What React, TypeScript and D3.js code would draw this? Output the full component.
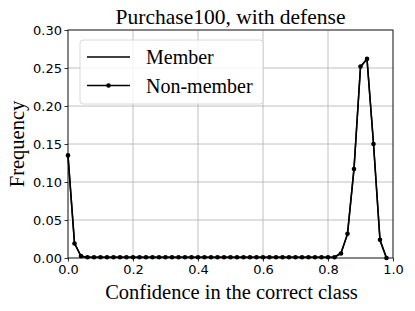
import React, { useEffect, useRef } from 'react';
import * as d3 from 'd3';

// bin positions (confidence), 50 bins of width 0.02
const binX = [
  0.00, 0.02, 0.04, 0.06, 0.08, 0.10, 0.12, 0.14, 0.16, 0.18,
  0.20, 0.22, 0.24, 0.26, 0.28, 0.30, 0.32, 0.34, 0.36, 0.38,
  0.40, 0.42, 0.44, 0.46, 0.48, 0.50, 0.52, 0.54, 0.56, 0.58,
  0.60, 0.62, 0.64, 0.66, 0.68, 0.70, 0.72, 0.74, 0.76, 0.78,
  0.80, 0.82, 0.84, 0.86, 0.88, 0.90, 0.92, 0.94, 0.96, 0.98,
];

const memberFreq = [
  0.134, 0.020, 0.002, 0.001, 0.001, 0.001, 0.001, 0.001, 0.001, 0.001,
  0.001, 0.001, 0.001, 0.001, 0.001, 0.001, 0.001, 0.001, 0.001, 0.001,
  0.001, 0.001, 0.001, 0.001, 0.001, 0.001, 0.001, 0.001, 0.001, 0.001,
  0.001, 0.001, 0.001, 0.001, 0.001, 0.001, 0.001, 0.001, 0.001, 0.001,
  0.001, 0.001, 0.007, 0.031, 0.118, 0.251, 0.262, 0.151, 0.023, 0.000,
];

const nonMemberFreq = [
  0.135, 0.019, 0.0025, 0.001, 0.001, 0.001, 0.001, 0.001, 0.001, 0.001,
  0.001, 0.001, 0.001, 0.001, 0.001, 0.001, 0.001, 0.001, 0.001, 0.001,
  0.001, 0.001, 0.001, 0.001, 0.001, 0.001, 0.001, 0.001, 0.001, 0.001,
  0.001, 0.001, 0.001, 0.001, 0.001, 0.001, 0.001, 0.001, 0.001, 0.001,
  0.001, 0.001, 0.006, 0.032, 0.117, 0.252, 0.262, 0.150, 0.024, 0.000,
];

const xTicks = [0, 0.2, 0.4, 0.6, 0.8, 1.0];
const yTicks = [0, 0.05, 0.1, 0.15, 0.2, 0.25, 0.3];
const seriesNames = ['Member', 'Non-member'];

export default function App() {
  const ref = useRef<SVGSVGElement>(null);

  useEffect(() => {
    const width = 415;
    const height = 311;
    const left = 68, right = 393, top = 30, bottom = 258;
    const serif = '"Liberation Serif", "Times New Roman", serif';
    const sans = '"DejaVu Sans", sans-serif';

    const svg = d3.select(ref.current)
      .attr('width', width)
      .attr('height', height);
    svg.selectAll('*').remove();

    const x = d3.scaleLinear().domain([0, 1]).range([left, right]);
    const y = d3.scaleLinear().domain([0, 0.3]).range([bottom, top]);

    svg.append('rect')
      .attr('width', width).attr('height', height).attr('fill', '#fff');

    // grid
    const grid = svg.append('g').attr('stroke', '#b0b0b0').attr('stroke-width', 0.8);
    grid.selectAll('.gx').data(xTicks).enter().append('line')
      .attr('x1', d => x(d)).attr('x2', d => x(d))
      .attr('y1', top).attr('y2', bottom);
    grid.selectAll('.gy').data(yTicks).enter().append('line')
      .attr('y1', d => y(d)).attr('y2', d => y(d))
      .attr('x1', left).attr('x2', right);

    // lines
    const line = d3.line<number>()
      .x((d, i) => x(binX[i]))
      .y(d => y(d));

    const plot = svg.append('g');
    plot.append('path')
      .datum(memberFreq)
      .attr('d', line)
      .attr('fill', 'none')
      .attr('stroke', '#000')
      .attr('stroke-width', 1.5);

    plot.append('path')
      .datum(nonMemberFreq)
      .attr('d', line)
      .attr('fill', 'none')
      .attr('stroke', '#000')
      .attr('stroke-width', 1.5);

    plot.selectAll('circle')
      .data(nonMemberFreq)
      .enter()
      .append('circle')
      .attr('cx', (d, i) => x(binX[i]))
      .attr('cy', d => y(d))
      .attr('r', 2.3)
      .attr('fill', '#000');

    // frame
    svg.append('rect')
      .attr('x', left).attr('y', top)
      .attr('width', right - left).attr('height', bottom - top)
      .attr('fill', 'none').attr('stroke', '#000').attr('stroke-width', 0.8);

    // axes
    const xAxis = svg.append('g')
      .attr('transform', `translate(0,${bottom})`)
      .call(d3.axisBottom(x).tickValues(xTicks).tickFormat(d3.format('.1f')).tickSize(3.5).tickPadding(3));
    const yAxis = svg.append('g')
      .attr('transform', `translate(${left},0)`)
      .call(d3.axisLeft(y).tickValues(yTicks).tickFormat(d3.format('.2f')).tickSize(3.5).tickPadding(2.5));
    [xAxis, yAxis].forEach(a => {
      a.select('.domain').remove();
      a.selectAll('line').attr('stroke', '#000').attr('stroke-width', 0.8);
      a.selectAll('text').attr('font-family', sans).attr('font-size', 13).attr('fill', '#000');
    });

    // legend
    const lg = svg.append('g');
    lg.append('rect')
      .attr('x', 80).attr('y', 40).attr('width', 183).attr('height', 64)
      .attr('rx', 3).attr('fill', '#fff').attr('fill-opacity', 0.8)
      .attr('stroke', '#d0d0d0').attr('stroke-width', 0.8);
    seriesNames.forEach((name, i) => {
      const ly = 57 + i * 28.5;
      lg.append('line')
        .attr('x1', 87).attr('x2', 130).attr('y1', ly).attr('y2', ly)
        .attr('stroke', '#000').attr('stroke-width', 1.5);
      if (i === 1) {
        lg.append('circle').attr('cx', 108.5).attr('cy', ly).attr('r', 2.3).attr('fill', '#000');
      }
      lg.append('text')
        .attr('x', 146).attr('y', ly + 7)
        .attr('font-family', serif).attr('font-size', 20)
        .text(name);
    });

    // titles
    svg.append('text')
      .attr('x', (left + right) / 2).attr('y', 24)
      .attr('text-anchor', 'middle')
      .attr('font-family', serif).attr('font-size', 21.5)
      .text('Purchase100, with defense');

    svg.append('text')
      .attr('x', (left + right) / 2 + 1).attr('y', 299)
      .attr('text-anchor', 'middle')
      .attr('font-family', serif).attr('font-size', 20.5)
      .text('Confidence in the correct class');

    svg.append('text')
      .attr('transform', `translate(24,${(top + bottom) / 2}) rotate(-90)`)
      .attr('text-anchor', 'middle')
      .attr('font-family', serif).attr('font-size', 20.5)
      .text('Frequency');
  }, []);

  return (
    <svg ref={ref} style={{ position: 'absolute', left: 0, top: 0 }} />
  );
}
